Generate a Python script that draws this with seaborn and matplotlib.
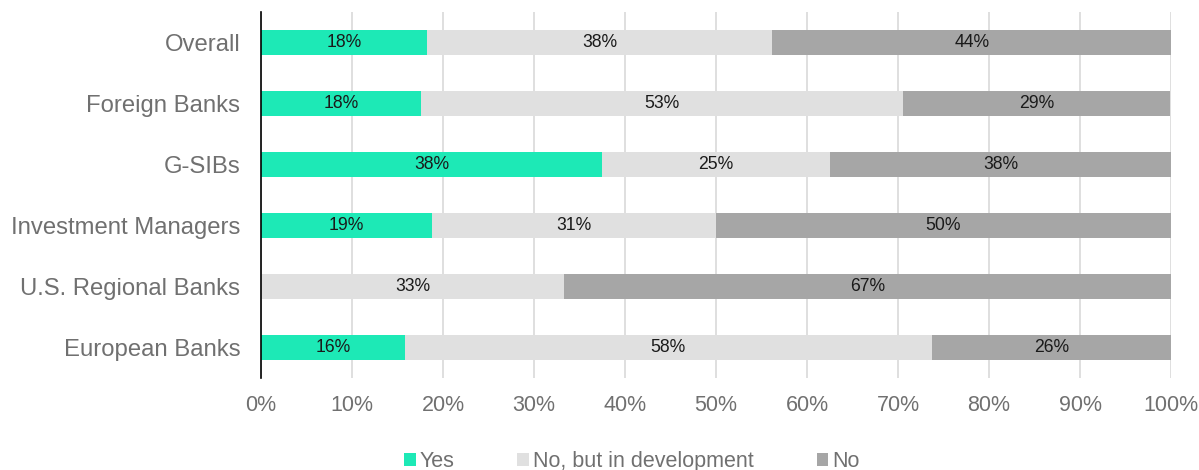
import matplotlib
matplotlib.use("Agg")
import matplotlib.pyplot as plt
import seaborn as sns
import pandas as pd
import numpy as np
from matplotlib.patches import Patch

categories = ["Overall", "Foreign Banks", "G-SIBs", "Investment Managers",
              "U.S. Regional Banks", "European Banks"]
yes_vals = [18.2, 17.6, 37.5, 18.75, 0.0, 15.8]
dev_vals = [38.0, 52.9, 25.0, 31.25, 33.3, 57.9]
no_vals = [43.8, 29.4, 37.5, 50.0, 66.7, 26.3]
series_names = ["Yes", "No, but in development", "No"]
x_ticks = [0, 10, 20, 30, 40, 50, 60, 70, 80, 90, 100]

colors = ["#1DE9B6", "#E0E0E0", "#A6A6A6"]
text_grey = "#707070"

sns.set_theme(style="white")
plt.rcParams["font.family"] = ["Liberation Sans", "DejaVu Sans"]

df = pd.DataFrame({"category": categories, "Yes": yes_vals,
                   "Dev": dev_vals, "No": no_vals})
df["c1"] = df["Yes"]
df["c2"] = df["Yes"] + df["Dev"]
df["c3"] = df["Yes"] + df["Dev"] + df["No"]

fig = plt.figure(figsize=(11.99, 4.70), dpi=100)
ax = fig.add_axes([261/1199, 1-378/470, (1171-261)/1199, (378-12)/470])

for col, color in zip(["c3", "c2", "c1"], colors[::-1]):
    sns.barplot(data=df, x=col, y="category", orient="h", color=color,
                width=0.4, ax=ax, saturation=1, zorder=3, linewidth=0)

# labels
for i, row in df.iterrows():
    starts = [0, row["c1"], row["c2"]]
    vals = [row["Yes"], row["Dev"], row["No"]]
    for s, v in zip(starts, vals):
        if v > 0:
            ax.text(s + v/2, i, f"{round(v):.0f}%", ha="center", va="center",
                    fontsize=12.7, color="#1a1a1a", zorder=4)

ax.set_xlim(0, 100)
ax.set_ylim(len(categories) - 0.5, -0.5)
ax.set_xticks(x_ticks)
ax.set_xticklabels([f"{t}%" for t in x_ticks])
ax.set_xlabel("")
ax.set_ylabel("")
ax.xaxis.grid(True, color="#D9D9D9", linewidth=1.2, zorder=0)
ax.set_axisbelow(True)
for s in ["top", "right", "bottom"]:
    ax.spines[s].set_visible(False)
ax.spines["left"].set_color("#000000")
ax.spines["left"].set_linewidth(1.2)
ax.spines["left"].set_zorder(5)
ax.tick_params(axis="both", length=0)
ax.tick_params(axis="x", labelsize=15.5, labelcolor=text_grey, pad=12)
ax.tick_params(axis="y", labelsize=17.2, labelcolor=text_grey, pad=15)

handles = [Patch(facecolor=c, edgecolor="none") for c in colors]
fig.legend(handles, series_names, loc="center", bbox_to_anchor=(0.527, 0.018),
           ncol=3, frameon=False, fontsize=15.5, labelcolor=text_grey,
           handlelength=0.55, handleheight=0.55, handletextpad=0.2,
           columnspacing=2.9)

fig.savefig("out.png", dpi=100)
